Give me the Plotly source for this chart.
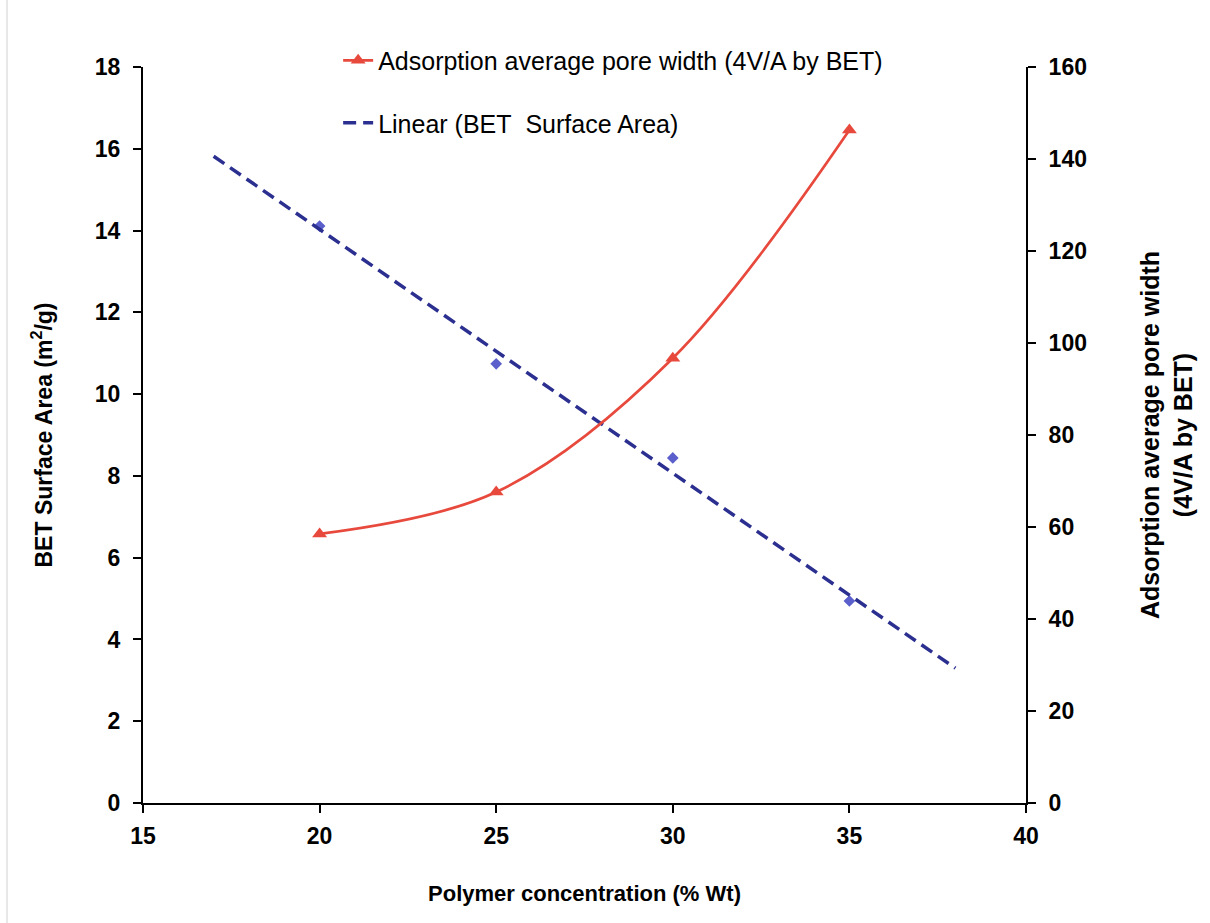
import numpy as np
import plotly.graph_objects as go

# Data
conc = [20, 25, 30, 35]
bet_area = [14.11, 10.74, 8.44, 4.94]
pore_width = [58.5, 67.6, 96.7, 146.3]
trend_x = [17, 38]

coef = np.polyfit(conc, bet_area, 1)
trend_y = [float(np.polyval(coef, v)) for v in trend_x]

FONT = "Liberation Sans, Arial, sans-serif"
RED = "#E8493D"
NAVY = "#2B2F8F"
BLUE = "#5A5FCB"

fig = go.Figure()

fig.add_trace(go.Scatter(
    x=conc, y=bet_area, mode="markers", name="BET Surface Area",
    marker=dict(symbol="diamond", size=9, color=BLUE),
    showlegend=False, yaxis="y"))

fig.add_trace(go.Scatter(
    x=conc, y=pore_width, mode="lines+markers",
    name="Adsorption average pore width (4V/A by BET)",
    line=dict(color=RED, width=2.7, shape="spline", smoothing=1.0),
    marker=dict(symbol="triangle-up", size=13, color=RED),
    yaxis="y2", legendgroup="a"))

fig.add_trace(go.Scatter(
    x=trend_x, y=trend_y, mode="lines",
    name="Linear (BET\u00a0 Surface Area)",
    line=dict(color=NAVY, width=3.5, dash="13px,7px"),
    yaxis="y", legendgroup="b"))


def axis_common(size, standoff):
    return dict(
        showgrid=False, zeroline=False, showline=True, linecolor="black",
        linewidth=2, ticks="outside", ticklen=8, tickwidth=2, tickcolor="black",
        ticklabelstandoff=standoff,
        tickfont=dict(family=FONT, size=size, color="black", weight="bold"),
    )


fig.update_layout(
    width=1210, height=923,
    margin=dict(l=143, r=184, t=67, b=120),
    paper_bgcolor="white", plot_bgcolor="white",
    font=dict(family=FONT, color="black"),
    xaxis=dict(range=[15, 40], dtick=5, tick0=15,
               title=dict(text="Polymer concentration (% Wt)", standoff=38,
                          font=dict(family=FONT, size=22, weight="bold")),
               **axis_common(23, 3)),
    yaxis=dict(range=[0, 18], dtick=2,
               title=dict(text="BET Surface Area (m<sup>2</sup>/g)", standoff=36,
                          font=dict(family=FONT, size=23, weight="bold")),
               **axis_common(23, 8)),
    yaxis2=dict(range=[0, 160], dtick=20, overlaying="y", side="right",
                title=dict(text="Adsorption average pore width<br>(4V/A by BET)",
                           standoff=56,
                           font=dict(family=FONT, size=25, weight="bold")),
                **axis_common(23, 8)),
    legend=dict(x=0.221, y=1.04, xanchor="left", yanchor="top",
                bgcolor="rgba(0,0,0,0)", tracegroupgap=27,
                font=dict(family=FONT, size=25, color="black")),
    shapes=[dict(type="line", xref="paper", yref="paper",
                 x0=-0.154, x1=-0.154, y0=-0.163, y1=1.091,
                 line=dict(color="#d0d0d0", width=1))],
)

fig.write_html("out.html")
